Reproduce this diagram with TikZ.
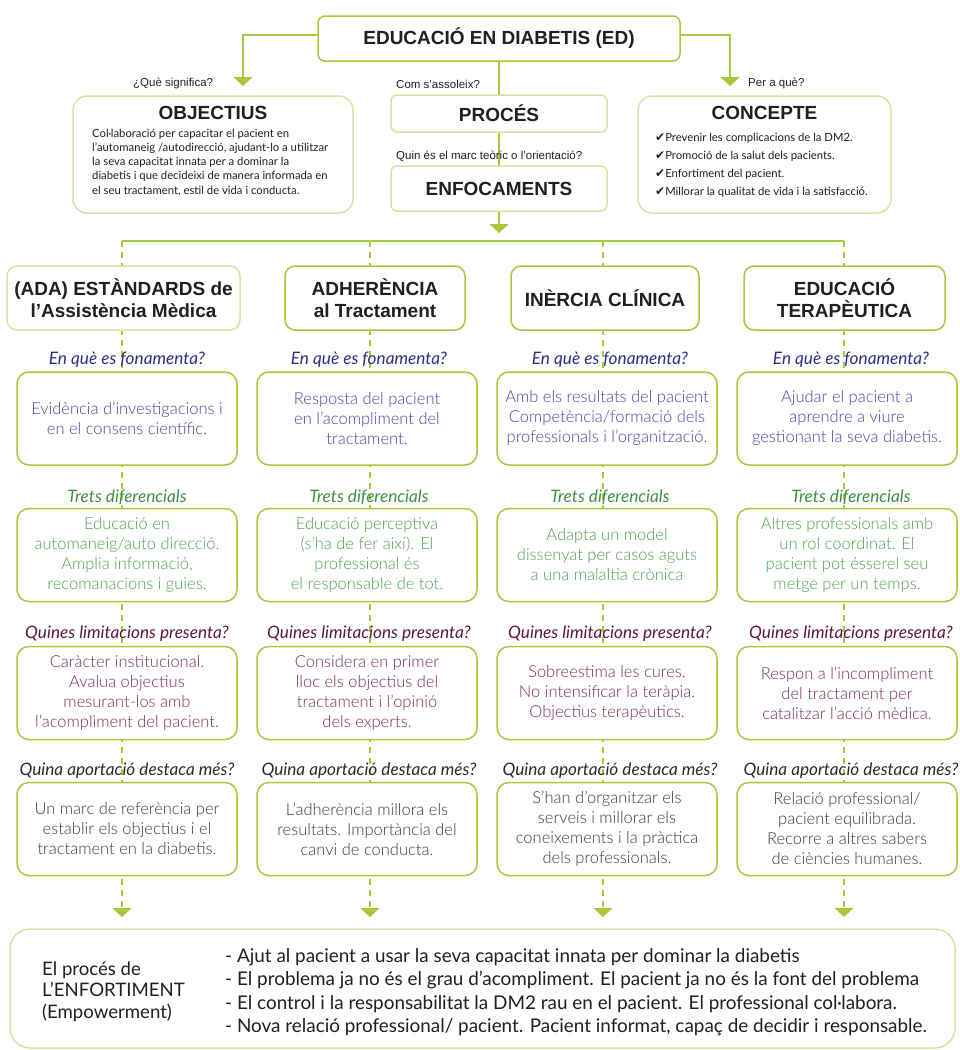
\documentclass[tikz,border=0pt]{standalone}
\usepackage{fontspec}
\setmainfont{Liberation Sans}
\newfontfamily\glight{Lato Light}
\newfontfamily\greg{Lato}
\newfontfamily\dejavu{DejaVu Sans}
\usetikzlibrary{arrows.meta,backgrounds}
\definecolor{lime}{HTML}{A6C93A}
\definecolor{pale}{HTML}{D5E5A2}
\definecolor{titlec}{HTML}{231F20}
\definecolor{blueLab}{HTML}{2F2F85}
\definecolor{blueTxt}{HTML}{4646A2}
\definecolor{greenLab}{HTML}{3F8F45}
\definecolor{greenTxt}{HTML}{4FA052}
\definecolor{maroonLab}{HTML}{5C1840}
\definecolor{maroonTxt}{HTML}{7B2D5E}
\definecolor{grayLab}{HTML}{2A2A2A}
\definecolor{grayTxt}{HTML}{3C3C3C}
\tikzset{
  tri/.style={-{Triangle[width=19pt,length=9pt]}},
  solidcon/.style={draw=lime, line width=1.5pt},
  dashcon/.style={draw=lime, line width=1.5pt, dash pattern=on 6pt off 5pt},
  titlefont/.style={font=\fontsize{19}{22}\selectfont\bfseries, text=titlec},
  titlebox/.style={draw=lime, line width=1.5pt, fill=white, rounded corners=7pt, align=center,
    titlefont, inner sep=0pt},
  palebox/.style={draw=pale, line width=1.5pt, fill=white, align=center,
    titlefont, inner sep=0pt},
  smalllab/.style={anchor=base west, font=\fontsize{11.5}{13}\selectfont, text=titlec, inner sep=0pt},
  rowbox/.style={draw=lime, line width=1.5pt, fill=white, rounded corners=12pt,
    minimum width=220pt, minimum height=93pt, align=center, inner sep=0pt,
    font=\glight\fontsize{16.5}{20}\selectfont},
  qlab/.style={anchor=base, inner sep=0pt, font=\greg\itshape\fontsize{17.2}{20}\selectfont},
}
\newcommand{\ck}{{\dejavu\fontsize{12}{12}\selectfont ✔}}
\begin{document}
\begin{tikzpicture}[x=1pt,y=-1pt]
\useasboundingbox (0,0) rectangle (960,1050);

% ---------- top part ----------
\node[titlebox, minimum width=362pt, minimum height=45pt] (ed) at (499,38.5) {EDUCACIÓ EN DIABETIS (ED)};
\node[palebox, rounded corners=6pt, minimum width=216pt, minimum height=37pt] (proc) at (499,113.5) {PROCÉS};
\node[palebox, rounded corners=6pt, minimum width=216pt, minimum height=45pt] (enf) at (499,188.5) {ENFOCAMENTS};
\node[palebox, rounded corners=14pt, minimum width=280pt, minimum height=117pt] (obj) at (213,154.5) {};
\node[palebox, rounded corners=14pt, minimum width=253pt, minimum height=117pt] (con) at (764.5,154.5) {};

\node[anchor=base, inner sep=0pt, titlefont] (objt) at (213,119) {OBJECTIUS};
\node[anchor=north west, align=left, inner sep=0pt, font=\greg\fontsize{11.3}{14.2}\selectfont, text=titlec] (objb) at (92,128.7)
  {Col·laboració per capacitar el pacient en\\
   l’automaneig /autodirecció, ajudant-lo a utilitzar\\
   la seva capacitat innata per a dominar la\\
   diabetis i que decideixi de manera informada en\\
   el seu tractament, estil de vida i conducta.};

\node[anchor=base, inner sep=0pt, titlefont] (cont) at (764.5,119) {CONCEPTE};
\node[anchor=north west, align=left, inner sep=0pt, font=\greg\fontsize{11.3}{18.3}\selectfont, text=titlec] (conb) at (655,132.5)
  {\ck Prevenir les complicacions de la DM2.\\
   \ck Promoció de la salut dels pacients.\\
   \ck Enfortiment del pacient.\\
   \ck Millorar la qualitat de vida i la satisfacció.};

\node[smalllab] (lq1) at (133,86) {¿Què significa?};
\node[smalllab] (lq2) at (748,86) {Per a què?};
\node[smalllab] (lq3) at (396,88) {Com s’assoleix?};
\node[smalllab] (lq4) at (396,159) {Quin és el marc teòric o l’orientació?};

\coordinate (tipL) at (243,86);
\coordinate (tipR) at (730,86);
\coordinate (tipC) at (499,233);
\coordinate (hL) at (122,241);
\coordinate (hR) at (844,241);

% ---------- column titles ----------
\node[palebox, rounded corners=10pt, minimum width=233pt, minimum height=64pt] (t1) at (123.5,298) {(ADA) ESTÀNDARDS de\\l’Assistència Mèdica};
\node[titlebox, rounded corners=10pt, minimum width=180pt, minimum height=64pt] (t2) at (375,298) {ADHERÈNCIA\\al Tractament};
\node[titlebox, rounded corners=10pt, minimum width=188pt, minimum height=64pt] (t3) at (605,298) {INÈRCIA CLÍNICA};
\node[titlebox, rounded corners=10pt, minimum width=201pt, minimum height=64pt] (t4) at (844.5,298) {EDUCACIÓ\\TERAPÈUTICA};

% ---------- labels ----------
\foreach \c/\x in {1/127,2/369,3/610,4/851}{
  \node[qlab, text=blueLab] (la\c) at (\x,364) {En què es fonamenta?};
  \node[qlab, text=greenLab] (lb\c) at (\x,502) {Trets diferencials};
  \node[qlab, text=maroonLab] (lc\c) at (\x,638) {Quines limitacions presenta?};
  \node[qlab, text=grayLab] (ld\c) at (\x,775) {Quina aportació destaca més?};
}

% ---------- row 1 ----------
\node[rowbox, text=blueTxt] (a1) at (127,418.5) {Evidència d’investigacions i\\en el consens científic.};
\node[rowbox, text=blueTxt] (a2) at (367,418.5) {Resposta del pacient\\en l’acompliment del\\tractament.};
\node[rowbox, text=blueTxt] (a3) at (607,418.5) {Amb els resultats del pacient\\Competència/formació dels\\professionals i l’organització.};
\node[rowbox, text=blueTxt] (a4) at (847,418.5) {Ajudar el pacient a\\aprendre a viure\\gestionant la seva diabetis.};
% ---------- row 2 ----------
\node[rowbox, text=greenTxt] (b1) at (127,555) {Educació en\\automaneig/auto direcció.\\Amplia informació,\\recomanacions i guies.};
\node[rowbox, text=greenTxt] (b2) at (367,555) {Educació perceptiva\\(s’ha de fer així). El\\professional és\\el responsable de tot.};
\node[rowbox, text=greenTxt] (b3) at (607,555) {Adapta un model\\dissenyat per casos aguts\\a una malaltia crònica};
\node[rowbox, text=greenTxt] (b4) at (847,555) {Altres professionals amb\\un rol coordinat. El\\pacient pot ésserel seu\\metge per un temps.};
% ---------- row 3 ----------
\node[rowbox, text=maroonTxt] (c1) at (127,693) {Caràcter institucional.\\Avalua objectius\\mesurant-los amb\\l’acompliment del pacient.};
\node[rowbox, text=maroonTxt] (c2) at (367,693) {Considera en primer\\lloc els objectius del\\tractament i l’opinió\\dels experts.};
\node[rowbox, text=maroonTxt] (c3) at (607,693) {Sobreestima les cures.\\No intensificar la teràpia.\\Objectius terapèutics.};
\node[rowbox, text=maroonTxt] (c4) at (847,693) {Respon a l’incompliment\\del tractament per\\catalitzar l’acció mèdica.};
% ---------- row 4 ----------
\node[rowbox, text=grayTxt] (d1) at (127,829) {Un marc de referència per\\establir els objectius i el\\tractament en la diabetis.};
\node[rowbox, text=grayTxt] (d2) at (367,829) {L’adherència millora els\\resultats. Importància del\\canvi de conducta.};
\node[rowbox, text=grayTxt] (d3) at (607,829) {S’han d’organitzar els\\serveis i millorar els\\coneixements i la pràctica\\dels professionals.};
\node[rowbox, text=grayTxt] (d4) at (847,829) {Relació professional/\\pacient equilibrada.\\Recorre a altres sabers\\de ciències humanes.};

% ---------- bottom ----------
\node[palebox, rounded corners=20pt, minimum width=945pt, minimum height=119pt] (emp) at (482.5,988.5) {};
\node[anchor=north west, align=left, inner sep=0pt, font=\greg\fontsize{18.6}{21.5}\selectfont, text=titlec] (empl) at (42,961.5)
  {El procés de\\L’ENFORTIMENT\\(Empowerment)};
\node[anchor=north west, align=left, inner sep=0pt, font=\greg\fontsize{18.9}{23.3}\selectfont, text=titlec] (empr) at (225,948.3)
  {- Ajut al pacient a usar la seva capacitat innata per dominar la diabetis\\
   - El problema ja no és el grau d’acompliment. El pacient ja no és la font del problema\\
   - El control i la responsabilitat la DM2 rau en el pacient. El professional col·labora.\\
   - Nova relació professional/ pacient. Pacient informat, capaç de decidir i responsable.};

\foreach \c/\x in {1/122,2/370,3/603,4/844}{
  \coordinate (v\c) at (\x,241);
  \coordinate (e\c) at (\x,917);
}

% ---------- connectors ----------
\begin{pgfonlayer}{background}
  \draw[solidcon, tri] ([yshift=3.5pt]ed.west) -| (tipL);
  \draw[solidcon, tri] ([yshift=3.5pt]ed.east) -| (tipR);
  \draw[solidcon, tri] (ed.south) -- (tipC);
  \draw[solidcon] (hL) -- (hR);
  \foreach \c in {1,2,3,4}{
    \draw[dashcon, tri] (v\c) -- (e\c);
  }
\end{pgfonlayer}
\end{tikzpicture}
\end{document}
